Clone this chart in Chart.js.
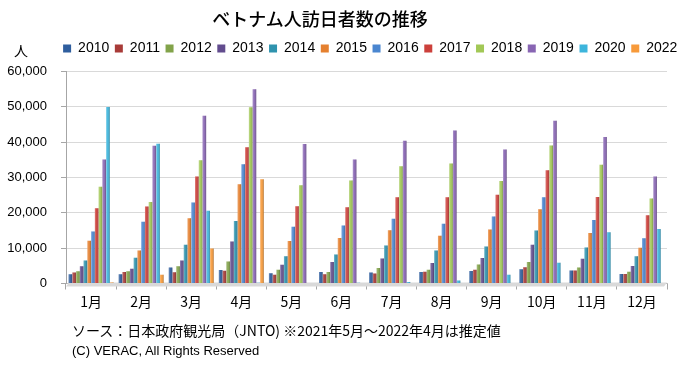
<!DOCTYPE html>
<html><head><meta charset="utf-8">
<script src="https://cdn.jsdelivr.net/npm/chart.js@4.4.0/dist/chart.umd.min.js"></script>
<style>
html,body{margin:0;padding:0;background:#fff;}
#wrap{position:relative;width:683px;height:365px;overflow:hidden;}
canvas{position:absolute;left:0;top:0;}
.t{position:absolute;white-space:nowrap;color:#000;}
</style></head><body>
<div id="wrap">
<canvas id="c" width="683" height="365"></canvas>
<div class="t" style="left:0;width:640px;top:5px;text-align:center;font:500 18px 'Noto Sans CJK JP';">ベトナム人訪日者数の推移</div>
<div class="t" style="left:14px;top:40px;font:14px 'Noto Sans CJK JP';">人</div>
<div class="t" style="left:72px;top:320px;font:14px 'Noto Sans CJK JP';">ソース：日本政府観光局（JNTO) ※2021年5月～2022年4月は推定値</div>
<div class="t" style="left:72px;top:343px;font:13px 'Liberation Sans';">(C) VERAC, All Rights Reserved</div>
</div>
<script>
const months = ['1月','2月','3月','4月','5月','6月','7月','8月','9月','10月','11月','12月'];
const years = ['2010','2011','2012','2013','2014','2015','2016','2017','2018','2019','2020','2022'];
const yTicks = [0,10000,20000,30000,40000,50000,60000];

const v2010 = [2600,2600,4500,3800,2900,3250,3100,3250,3550,4000,3650,2700];
const v2011 = [3100,3250,3200,3600,2500,2600,2800,3300,3900,4600,3650,2700];
const v2012 = [3450,3450,4850,6250,3900,3250,4400,3900,5400,6100,4500,3350];
const v2013 = [4850,4200,6500,11900,5300,6100,7100,5800,7200,11000,7000,4950];
const v2014 = [6500,7300,11000,17700,7750,8200,10750,9350,10450,15000,10200,7750];
const v2015 = [12100,9350,18500,28100,12050,12900,15100,13550,15300,21000,14300,10100];
const v2016 = [14700,17500,22900,33800,16100,16400,18300,16900,19000,24400,17950,12800];
const v2017 = [21300,21800,30300,38600,21900,21600,24400,24400,25100,32100,24500,19350];
const v2018 = [27400,23100,34900,49900,27850,29200,33200,34000,29000,39100,33650,24100];
const v2019 = [35100,39000,47500,55000,39500,35100,40400,43300,37950,46100,41500,30300];
const v2020 = [50000,39600,20600,200,150,200,450,850,2500,5900,14500,15400];
const v2022 = [300,2500,9900,29500,null,null,null,null,null,null,null,null];

const seriesValues = [v2010,v2011,v2012,v2013,v2014,v2015,v2016,v2017,v2018,v2019,v2020,v2022];
const colors = ['#2F5E9E','#A83B38','#82A34A','#624C8E','#2F93AE','#E5802F','#4A86D0','#CC403B','#A2C856','#8865B3','#3DB5DC','#F79A3A'];

const floor = {
  id: 'floor',
  beforeDatasetsDraw(chart) {
    const { ctx, chartArea: a } = chart;
    ctx.save();
    ctx.fillStyle = '#D9D9D9';
    ctx.beginPath();
    ctx.moveTo(a.left + 3, a.bottom - 1);
    ctx.lineTo(a.right, a.bottom - 1);
    ctx.lineTo(a.right - 3, a.bottom + 3);
    ctx.lineTo(a.left, a.bottom + 3);
    ctx.closePath();
    ctx.fill();
    ctx.restore();
  }
};

const shade = {
  id: 'shade',
  afterDatasetsDraw(chart) {
    const ctx = chart.ctx;
    ctx.save();
    chart.data.datasets.forEach((ds, i) => {
      const meta = chart.getDatasetMeta(i);
      if (meta.hidden) return;
      meta.data.forEach(bar => {
        const p = bar.getProps(['x','y','base','width'], true);
        if (!isFinite(p.y) || !isFinite(p.base)) return;
        const l = p.x - p.width / 2;
        const g = ctx.createLinearGradient(l, 0, l + p.width, 0);
        g.addColorStop(0, 'rgba(255,255,255,0.30)');
        g.addColorStop(0.45, 'rgba(255,255,255,0.05)');
        g.addColorStop(1, 'rgba(0,0,0,0.30)');
        ctx.fillStyle = g;
        ctx.fillRect(l, p.y, p.width, p.base - p.y);
      });
    });
    ctx.restore();
  }
};

new Chart(document.getElementById('c'), {
  type: 'bar',
  data: {
    labels: months,
    datasets: years.map((y, i) => ({
      label: y,
      data: seriesValues[i],
      backgroundColor: colors[i],
      borderWidth: 0,
      categoryPercentage: 0.9,
      barPercentage: 0.95
    }))
  },
  options: {
    responsive: false,
    animation: false,
    layout: { padding: { left: 6, right: 0, top: 36, bottom: 0 } },
    plugins: {
      legend: {
        position: 'top',
        align: 'end',
        labels: {
          boxWidth: 8, boxHeight: 8, padding: 5.6, color: '#000',
          font: { family: 'Liberation Sans', size: 14 }
        }
      },
      title: { display: false },
      tooltip: { enabled: false }
    },
    scales: {
      x: {
        grid: { display: true, drawOnChartArea: false, offset: true, tickLength: 6, tickColor: '#A6A6A6' },
        border: { color: '#BFBFBF' },
        ticks: { color: '#000', padding: 4, font: { family: "'Noto Sans CJK JP'", size: 14 } },
        afterFit: s => { s.height = 365 - 283.5; }
      },
      xTop: {
        position: 'top', display: true,
        grid: { display: false }, border: { display: false },
        ticks: { display: false },
        afterFit: s => { s.height = 6; }
      },
      y: {
        min: 0, max: 60000,
        afterBuildTicks: s => { s.ticks = yTicks.map(v => ({ value: v })); },
        grid: { color: '#D9D9D9', tickLength: 5, tickColor: '#A6A6A6' },
        border: { color: '#A6A6A6' },
        ticks: {
          color: '#000', padding: 14,
          font: { family: 'Liberation Sans', size: 13 },
          callback: v => v.toLocaleString('en-US')
        },
        afterFit: s => { s.width = 60; }
      },
      y2: {
        position: 'right', display: true,
        grid: { display: false }, border: { display: false },
        ticks: { display: false },
        afterFit: s => { s.width = 16; }
      }
    }
  },
  plugins: [floor, shade]
});
</script>
</body></html>
